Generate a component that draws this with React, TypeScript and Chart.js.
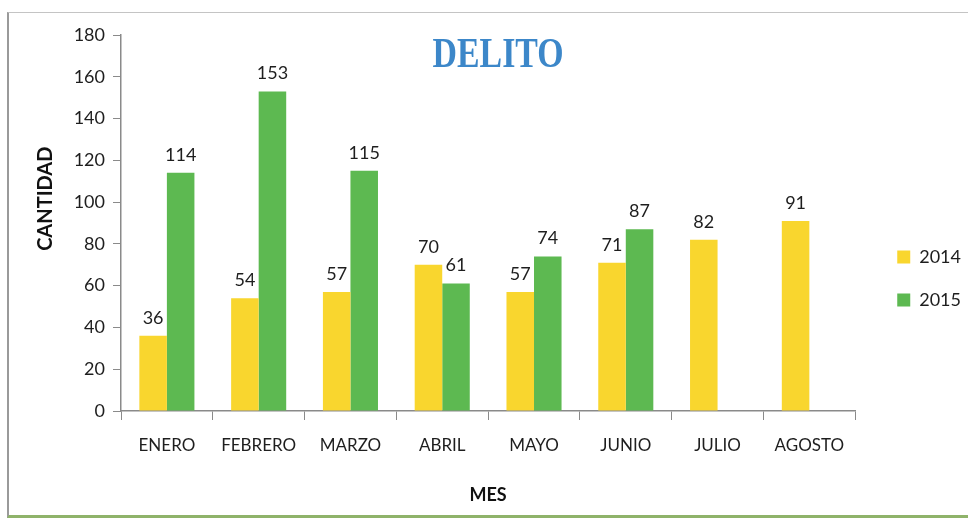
import React, { useEffect, useRef } from "react";
import { Chart, registerables } from "chart.js";

Chart.register(...registerables);

const categories = ["ENERO", "FEBRERO", "MARZO", "ABRIL", "MAYO", "JUNIO", "JULIO", "AGOSTO"];
const series2014 = [36, 54, 57, 70, 57, 71, 82, 91];
const series2015 = [114, 153, 115, 61, 74, 87, null, null];
const seriesNames = ["2014", "2015"];
const chartTitle = "DELITO";
const yTitle = "CANTIDAD";
const xTitle = "MES";

const YELLOW = "#F9D62E";
const GREEN = "#5DB951";
const AXIS = "#8a8a8a";
const FONT = "Lato, 'Open Sans', sans-serif";

const valueLabels = {
  id: "valueLabels",
  afterDatasetsDraw(chart: any) {
    const ctx = chart.ctx;
    ctx.save();
    ctx.font = `18px ${FONT}`;
    ctx.fillStyle = "#1e1e1e";
    ctx.textAlign = "center";
    ctx.textBaseline = "bottom";
    chart.data.datasets.forEach((ds: any, i: number) => {
      const meta = chart.getDatasetMeta(i);
      meta.data.forEach((bar: any, j: number) => {
        const v = ds.data[j];
        if (v === null || v === undefined) return;
        ctx.fillText(String(v), bar.x, bar.y - 9);
      });
    });
    ctx.restore();
  },
};

// nudges the built-in legend to sit where the reference places it
const legendNudge = {
  id: "legendNudge",
  afterLayout(chart: any) {
    const lg = chart.legend;
    if (!lg) return;
    lg.left += 17;
    lg.right += 17;
    lg.top += 8;
    lg.bottom += 8;
  },
};

const innerTitle = {
  id: "innerTitle",
  afterDraw(chart: any) {
    const ctx = chart.ctx;
    const ca = chart.chartArea;
    ctx.save();
    ctx.font = `bold 42px 'Liberation Serif', 'DejaVu Serif', serif`;
    ctx.fillStyle = "#3C87C9";
    ctx.textAlign = "center";
    ctx.textBaseline = "alphabetic";
    const w = ctx.measureText(chartTitle).width;
    const target = 131;
    const sx = target / w;
    const cx = ca.left + (ca.right - ca.left) / 2 + 10;
    ctx.translate(cx, ca.top + 32);
    ctx.scale(sx, 1);
    ctx.fillText(chartTitle, 0, 0);
    ctx.restore();
  },
};

export default function App() {
  const ref = useRef<HTMLCanvasElement | null>(null);

  useEffect(() => {
    if (!ref.current) return;
    const chart = new Chart(ref.current, {
      type: "bar",
      data: {
        labels: categories,
        datasets: [
          {
            label: seriesNames[0],
            data: series2014,
            backgroundColor: YELLOW,
            barPercentage: 1,
            categoryPercentage: 0.6,
          },
          {
            label: seriesNames[1],
            data: series2015,
            backgroundColor: GREEN,
            barPercentage: 1,
            categoryPercentage: 0.6,
          },
        ],
      },
      options: {
        animation: false,
        responsive: true,
        maintainAspectRatio: false,
        layout: { padding: { left: 25, top: 22, bottom: 9, right: 14 } },
        plugins: {
          title: { display: false },
          tooltip: { enabled: false },
          legend: {
            position: "right",
            align: "center",
            labels: {
              boxWidth: 13,
              boxHeight: 13,
              padding: 25,
              color: "#1e1e1e",
              font: { family: FONT, size: 18 },
            },
          },
        },
        scales: {
          x: {
            grid: {
              display: true,
              drawOnChartArea: false,
              drawTicks: true,
              tickLength: 9,
              color: AXIS,
              offset: true,
            },
            border: { display: true, color: AXIS, width: 1.5 },
            ticks: {
              color: "#1e1e1e",
              padding: 15,
              font: { family: FONT, size: 17 },
              maxRotation: 0,
            },
            title: {
              display: true,
              text: xTitle,
              color: "#111",
              font: { family: FONT, size: 18, weight: "bold" },
              padding: { top: 0, bottom: 0 },
            },
            afterFit(scale: any) {
              scale.height = 95;
            },
          },
          y: {
            min: 0,
            max: 180,
            ticks: {
              stepSize: 20,
              color: "#1e1e1e",
              padding: 8,
              font: { family: FONT, size: 18 },
            },
            grid: {
              display: true,
              drawOnChartArea: false,
              drawTicks: true,
              tickLength: 8,
              color: AXIS,
            },
            border: { display: true, color: AXIS, width: 1.5 },
            title: {
              display: true,
              text: "          " + yTitle,
              color: "#111",
              font: { family: FONT, size: 20, weight: "bold" },
              padding: { top: 0, bottom: 0 },
            },
            afterFit(scale: any) {
              scale.width = 87;
            },
          },
        },
      },
      plugins: [valueLabels, innerTitle, legendNudge],
    });
    return () => chart.destroy();
  }, []);

  return (
    <div
      style={{
        position: "absolute",
        left: 7,
        top: 12,
        width: 961,
        height: 506,
        borderLeft: "2px solid #9a9a9a",
        borderTop: "1px solid #c4c4c4",
        borderBottom: "3px solid #8fb36a",
        boxSizing: "border-box",
        background: "#fff",
      }}
    >
      <canvas ref={ref} />
    </div>
  );
}
